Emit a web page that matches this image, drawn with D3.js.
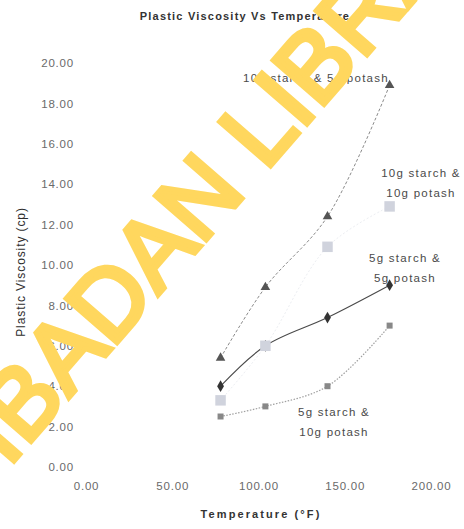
<!DOCTYPE html>
<html><head><meta charset="utf-8">
<script src="https://cdn.jsdelivr.net/npm/d3@7"></script>
<style>
body{margin:0;background:#fff;}
svg{display:block;}
</style></head>
<body>
<svg id="chart" width="464" height="529"></svg>
<script>
const temperatures = [78, 104, 140, 176];
const seriesNames = ["10g starch & 5g potash", "5g starch & 5g potash", "10g starch & 10g potash", "5g starch & 10g potash"];
const starch10potash5 = [5.4, 8.9, 12.4, 18.9];
const starch5potash5 = [4.0, 6.0, 7.4, 9.0];
const starch10potash10 = [3.3, 6.0, 10.9, 12.9];
const starch5potash10 = [2.5, 3.0, 4.0, 7.0];
const xTicks = [0, 50, 100, 150, 200];
const yTicks = [0, 2, 4, 6, 8, 10, 12, 14, 16, 18, 20];
const titleText = "Plastic Viscosity Vs Temperature";
const xTitle = "Temperature (\u00B0F)";
const yTitle = "Plastic Viscosity (cp)";
const watermark = "IBADAN LIBRARY";

const svg = d3.select("#chart");
const x = d3.scaleLinear().domain([0, 200]).range([86, 431]);
const y = d3.scaleLinear().domain([0, 20]).range([467, 63]);
const font = "Liberation Sans, Arial, sans-serif";

// axes
const yAxis = svg.append("g").attr("transform", "translate(86,0)")
  .call(d3.axisLeft(y).tickValues(yTicks).tickSize(0).tickPadding(12).tickFormat(d3.format(".2f")));
const xAxis = svg.append("g").attr("transform", "translate(0,467)")
  .call(d3.axisBottom(x).tickValues(xTicks).tickSize(0).tickPadding(15).tickFormat(d3.format(".2f")));
[yAxis, xAxis].forEach(g => {
  g.select(".domain").remove();
  g.selectAll("text").attr("fill", "#6a6a6a").style("font-family", font)
    .style("font-size", "11.5px").style("letter-spacing", "0.8px");
});

// series styles
const styles = [
  {vals: starch10potash5, line: "#8a8a8a", dash: "3,2", width: 1, marker: d3.symbolTriangle, msize: 40, mfill: "#555"},
  {vals: starch5potash5, line: "#4a4a4a", dash: null, width: 1.1, marker: d3.symbolDiamond, msize: 40, mfill: "#333"},
  {vals: starch10potash10, line: "#eceef2", dash: "2,2", width: 1, marker: d3.symbolSquare, msize: 110, mfill: "#d0d3dd"},
  {vals: starch5potash10, line: "#a0a0a0", dash: "1.5,1.5", width: 1.2, marker: d3.symbolSquare, msize: 36, mfill: "#888"}
];

const line = d3.line().x((d, i) => x(temperatures[i])).y(d => y(d)).curve(d3.curveCatmullRom);
[2, 3, 0, 1].forEach(k => {
  const s = styles[k];
  svg.append("path").attr("d", line(s.vals)).attr("fill", "none")
    .attr("stroke", s.line).attr("stroke-width", s.width)
    .attr("stroke-dasharray", s.dash);
});
[3, 0, 1, 2].forEach(k => {
  const s = styles[k];
  svg.append("g").selectAll("path").data(s.vals).join("path")
    .attr("transform", (d, i) => `translate(${x(temperatures[i])},${y(d)})`)
    .attr("d", d3.symbol().type(s.marker).size(s.msize))
    .attr("fill", s.mfill);
});

// series labels
const labelLayout = [
  {lines: [seriesNames[0]], x: 316, y: 82},
  {lines: ["10g starch &", "10g potash"], x: 421, y: 177},
  {lines: ["5g starch &", "5g potash"], x: 405, y: 262},
  {lines: ["5g starch &", "10g potash"], x: 334, y: 416}
];
labelLayout.forEach(l => {
  const t = svg.append("text").attr("text-anchor", "middle").attr("fill", "#4a4a4a")
    .style("font-family", font).style("font-size", "11.5px").style("letter-spacing", "1.25px");
  l.lines.forEach((ln, i) => t.append("tspan").attr("x", l.x).attr("y", l.y + i * 20).text(ln));
});

// titles
svg.append("text").attr("x", 245).attr("y", 20).attr("text-anchor", "middle")
  .attr("fill", "#333").style("font-family", font).style("font-weight", "bold")
  .style("font-size", "11px").style("letter-spacing", "1.2px").text(titleText);
svg.append("text").attr("x", 261).attr("y", 518).attr("text-anchor", "middle")
  .attr("fill", "#333").style("font-family", font).style("font-weight", "bold")
  .style("font-size", "11px").style("letter-spacing", "2.1px").text(xTitle);
svg.append("text").attr("transform", "translate(25,272) rotate(-90)").attr("text-anchor", "middle")
  .attr("fill", "#2e2e2e").style("font-family", font)
  .style("font-size", "12px").style("letter-spacing", "0.9px").text(yTitle);

// watermark
svg.append("text").attr("transform", "translate(8,468) rotate(-49)")
  .attr("fill", "#ffd75e").attr("stroke", "#ffd75e").attr("stroke-width", 5)
  .attr("stroke-linejoin", "miter")
  .style("font-family", font)
  .style("font-size", "98px").text(watermark);
</script>
</body></html>
